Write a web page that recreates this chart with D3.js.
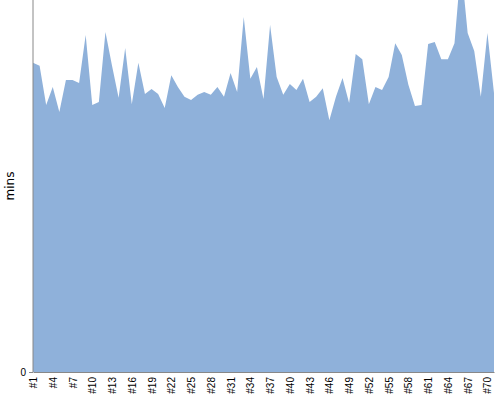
<!DOCTYPE html>
<html>
<head>
<meta charset="utf-8">
<script src="https://cdn.jsdelivr.net/npm/d3@7"></script>
<style>
  html, body { margin: 0; padding: 0; background: #fff; }
  svg { display: block; }
</style>
</head>
<body>
<svg id="chart" width="500" height="400"></svg>
<script>
const categories = d3.range(1, 72).map(i => "#" + i);
const values = [
  83.1, 82.3, 71.8, 76.6, 69.9, 78.5, 78.5, 77.7, 90.6, 71.8,
  72.6, 91.4, 82.3, 73.7, 87.1, 72.0, 83.1, 74.7, 76.1, 74.7,
  71.0, 79.8, 76.6, 74.0, 73.1, 74.5, 75.3, 74.5, 76.6, 74.0,
  80.4, 75.3, 95.4, 78.8, 82.0, 73.4, 93.3, 79.3, 74.5, 77.4,
  75.8, 78.8, 72.6, 74.0, 76.3, 67.7, 74.0, 79.0, 72.3, 85.5,
  84.1, 72.0, 76.6, 75.8, 79.3, 88.4, 85.2, 77.2, 71.5, 71.8,
  88.2, 88.7, 84.1, 84.1, 88.4, 109.4, 91.1, 86.3, 74.0, 91.1,
  75.0
];
const tickLabels = categories.filter((d, i) => i % 3 === 0);
const yTicks = [0];
const yLabel = "mins";

const margin = {top: 0, left: 33, right: 6, bottom: 28};
const W = 500, H = 400;
const width = W - margin.left - margin.right;
const height = H - margin.top - margin.bottom;

const svg = d3.select("#chart");
const g = svg.append("g").attr("transform", `translate(${margin.left},${margin.top})`);

const x = d3.scalePoint().domain(categories).range([0, width]);
const y = d3.scaleLinear().domain([0, 100]).range([height, 0]);

const data = categories.map((c, i) => ({c, v: values[i]}));

g.append("path")
  .datum(data)
  .attr("fill", "#8fb1da")
  .attr("d", d3.area().x(d => x(d.c)).y0(height).y1(d => y(d.v)));

const xAxis = g.append("g")
  .attr("transform", `translate(0,${height})`)
  .call(d3.axisBottom(x).tickValues(tickLabels).tickSize(0).tickPadding(5));
xAxis.select(".domain").attr("stroke", "#888");
xAxis.selectAll("text")
  .attr("text-anchor", "end")
  .attr("dx", "0")
  .attr("dy", "0.35em")
  .attr("x", 0).attr("y", 0)
  .attr("transform", "translate(0,5) rotate(-90)")
  .style("font-family", "Liberation Sans, Arial, sans-serif")
  .style("font-size", "10px")
  .attr("fill", "#000");

const yAxis = g.append("g")
  .call(d3.axisLeft(y).tickValues(yTicks).tickSize(4).tickSizeOuter(0).tickPadding(3));
yAxis.select(".domain").attr("stroke", "#888").attr("d", `M0,${height}V0`);
yAxis.selectAll(".tick line").attr("stroke", "#888");
yAxis.selectAll("text")
  .style("font-family", "Liberation Sans, Arial, sans-serif")
  .style("font-size", "10px")
  .attr("fill", "#000");

svg.append("text")
  .attr("transform", `translate(14,${margin.top + height / 2}) rotate(-90)`)
  .attr("text-anchor", "middle")
  .style("font-family", "DejaVu Sans, sans-serif")
  .style("font-size", "12px")
  .attr("fill", "#000")
  .text(yLabel);
</script>
</body>
</html>
